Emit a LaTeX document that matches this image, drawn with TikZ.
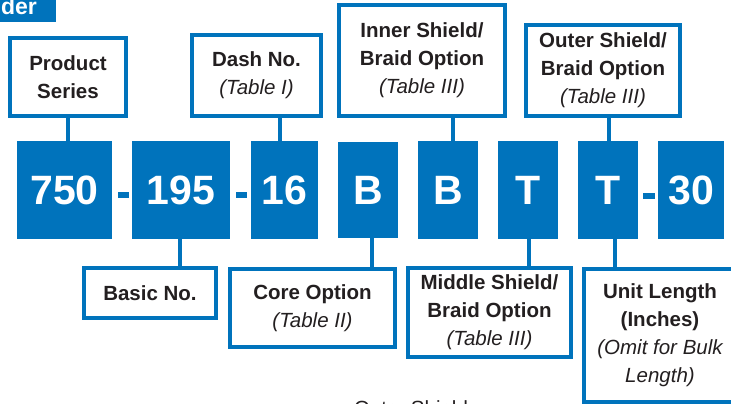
\documentclass[tikz,border=0pt]{standalone}
\usepackage{fontspec}
\setmainfont{Liberation Sans}
\definecolor{cblue}{RGB}{0,115,188}
\definecolor{ctext}{RGB}{35,31,32}
\newcommand{\tabit}[1]{{\mdseries\itshape #1}}
\tikzset{
  lbl/.style={draw=cblue, line width=4pt, fill=white, align=center, text=ctext,
    font=\fontsize{20.5}{28}\selectfont\bfseries, inner sep=0pt},
  code/.style={fill=cblue, text=white, font=\fontsize{41}{41}\selectfont\bfseries,
    inner sep=0pt, minimum height=98pt},
  conn/.style={draw=cblue, line width=4pt},
  hy/.style={fill=cblue, inner sep=0pt, minimum width=11pt, minimum height=6pt}
}
\begin{document}
\begin{tikzpicture}[x=1pt,y=-1pt]
\useasboundingbox (0,0) rectangle (731,404);
\clip (0,0) rectangle (731,404);
% header
\node[fill=cblue, inner sep=0pt, minimum width=56pt, minimum height=22pt, anchor=north west] (hdr) at (0,0) {};
\node[text=white, font=\fontsize{23}{23}\selectfont\bfseries, inner sep=0pt, anchor=base east] (hdrtxt) at (37,15) {der};
% code boxes
\node[code, minimum width=95pt] (c750) at (64.5,190) {750};
\node[code, minimum width=98pt] (c195) at (181,190) {195};
\node[code, minimum width=67pt] (c16) at (284.5,190) {16};
\node[code, minimum width=60pt, minimum height=96pt] (cB1) at (368,190) {B};
\node[code, minimum width=60pt] (cB2) at (448,190) {B};
\node[code, minimum width=60pt] (cT1) at (528,190) {T};
\node[code, minimum width=60pt] (cT2) at (608,190) {T};
\node[code, minimum width=66pt] (c30) at (691,190) {30};
% hyphens
\node[hy] (hy1) at (123.5,195) {};
\node[hy] (hy2) at (241.5,195) {};
\node[hy, minimum width=12pt] (hy3) at (649,195.5) {};
% top labels
\node[lbl, minimum width=116pt, minimum height=78pt] (prod) at (68,77) {Product\\Series};
\node[lbl, minimum width=129pt, minimum height=81pt] (dashno) at (256.5,75.5) {Dash No.\\\tabit{(Table I)}};
\node[lbl, minimum width=166pt, minimum height=111pt] (inner) at (422,60.5) {Inner Shield/\\Braid Option\\\tabit{(Table III)}};
\node[lbl, minimum width=154pt, minimum height=91pt] (outer) at (603,70.5) {Outer Shield/\\Braid Option\\\tabit{(Table III)}};
% bottom labels
\node[lbl, minimum width=132pt, minimum height=50pt] (basic) at (150,293) {Basic No.};
\node[lbl, minimum width=165pt, minimum height=78pt] (core) at (312.5,308) {Core Option\\\tabit{(Table II)}};
\node[lbl, minimum width=163pt, minimum height=89pt] (middle) at (489.5,312.5) {Middle Shield/\\Braid Option\\\tabit{(Table III)}};
\node[lbl, minimum width=152pt, minimum height=133pt] (unit) at (660,335.5) {Unit Length\\(Inches)\\\tabit{(Omit for Bulk}\\\tabit{Length)}};
% cut-off caption
\node[text=ctext, font=\fontsize{20.5}{28}\selectfont, inner sep=0pt, anchor=base] (cap) at (411,415) {Outer Shield};
% connectors
\draw[conn] (prod.south) -- (prod.south |- c750.north);
\draw[conn] ([xshift=-4.5pt]c16.north) -- ([xshift=-4.5pt]c16.north |- dashno.south);
\draw[conn] ([xshift=5pt]cB2.north) -- ([xshift=5pt]cB2.north |- inner.south);
\draw[conn] ([xshift=1pt]cT2.north) -- ([xshift=1pt]cT2.north |- outer.south);
\draw[conn] ([xshift=-1pt]c195.south) -- ([xshift=-1pt]c195.south |- basic.north);
\draw[conn] ([xshift=4pt]cB1.south) -- ([xshift=4pt]cB1.south |- core.north);
\draw[conn] ([xshift=1pt]cT1.south) -- ([xshift=1pt]cT1.south |- middle.north);
\draw[conn] ([xshift=7pt]cT2.south) -- ([xshift=7pt]cT2.south |- unit.north);
\end{tikzpicture}
\end{document}
